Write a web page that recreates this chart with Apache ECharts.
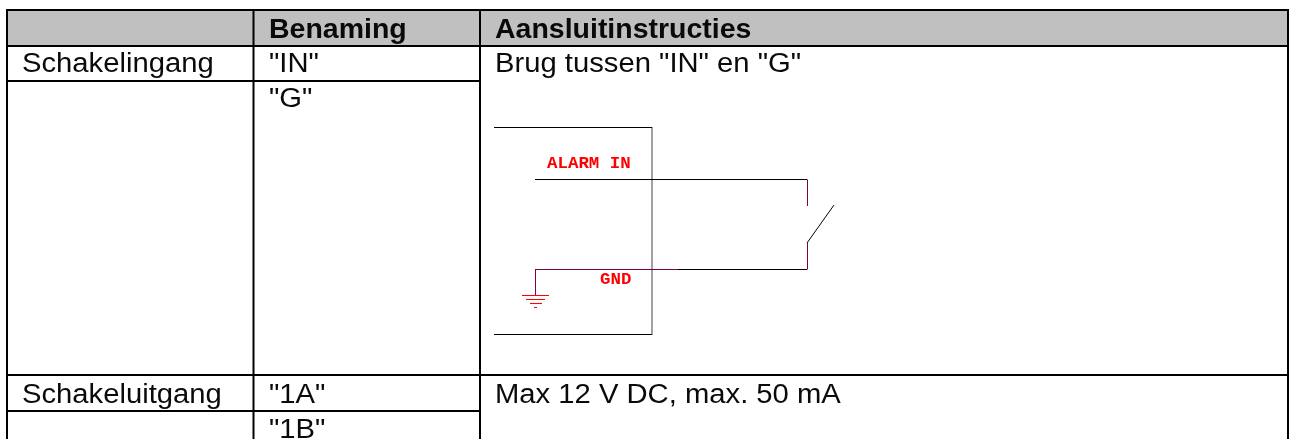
<!DOCTYPE html>
<html>
<head>
<meta charset="utf-8">
<style>
  html, body { margin: 0; padding: 0; background: #fff; }
  #chart { width: 1295px; height: 439px; }
</style>
<script src="https://cdn.jsdelivr.net/npm/echarts@6/dist/echarts.min.js"></script>
</head>
<body>
<div id="chart"></div>
<script>
// Table text
const headers = ["Benaming", "Aansluitinstructies"];
const groups = ["Schakelingang", "Schakeluitgang"];
const names = ['"IN"', '"G"', '"1A"', '"1B"'];
const instructions = ['Brug tussen "IN" en "G"', "Max 12 V DC, max. 50 mA"];
const diagramLabels = ["ALARM IN", "GND"];

// Where the table rules and wires sit, as [x1, y1, x2, y2] on the page axes
const headerBand = [[7, 10, 1288, 46]];
const tableRules = [
  [6, 10, 1289, 10], [6, 46, 1289, 46], [6, 81, 480, 81], [6, 375, 1289, 375], [6, 411, 480, 411],
  [7, 10, 7, 439], [253.5, 10, 253.5, 439], [480, 10, 480, 439], [1288, 10, 1288, 439],
];
const blackWires = [
  [494, 127.5, 652, 127.5], [494, 334.5, 652, 334.5], [535, 179.5, 807, 179.5], [678, 269.5, 807, 269.5],
  [807, 243, 834, 205],
];
const maroonWires = [
  [807.5, 179.5, 807.5, 206], [807.5, 243, 807.5, 269.5], [535, 269.5, 678, 269.5], [535.5, 269.5, 535.5, 295],
];
const boxEdge = [[652, 127, 652, 335]];
const groundBars = [
  [522, 295.5, 549, 295.5], [526, 299.5, 545, 299.5], [530, 303.5, 542, 303.5], [534, 307.5, 537, 307.5],
];

function segments(data, color, width) {
  return {
    type: "custom",
    silent: true,
    data: data,
    renderItem: (params, api) => {
      const a = api.coord([api.value(0), api.value(1)]);
      const b = api.coord([api.value(2), api.value(3)]);
      return {
        type: "line",
        shape: { x1: a[0], y1: a[1], x2: b[0], y2: b[1] },
        style: { stroke: color, lineWidth: width },
      };
    },
  };
}

// y is the top of the text box here, zrender has no alphabetic baseline option
function texts(items, font, color, stretch) {
  return {
    type: "custom",
    silent: true,
    data: items.map((t) => [t[0], t[1]]),
    renderItem: (params, api) => {
      const p = api.coord([api.value(0), api.value(1)]);
      return {
        type: "text",
        x: p[0],
        y: p[1],
        scaleX: stretch,
        style: {
          text: items[params.dataIndex][2],
          font: font,
          fill: color,
        },
      };
    },
  };
}

const body = '27px "Liberation Sans"';
const bold = 'bold 27px "Liberation Sans"';
const mono = 'bold 16px "Liberation Mono"';

const chart = echarts.init(document.getElementById("chart"));
chart.setOption({
  animation: false,
  backgroundColor: "#ffffff",
  grid: { left: 0, right: 0, top: 0, bottom: 0 },
  xAxis: { type: "value", min: 0, max: 1295, show: false },
  yAxis: { type: "value", min: 0, max: 439, inverse: true, show: false },
  series: [
    {
      type: "custom",
      silent: true,
      data: headerBand,
      renderItem: (params, api) => {
        const a = api.coord([api.value(0), api.value(1)]);
        const b = api.coord([api.value(2), api.value(3)]);
        return {
          type: "rect",
          shape: { x: a[0], y: a[1], width: b[0] - a[0], height: b[1] - a[1] },
          style: { fill: "#c0c0c0" },
        };
      },
    },
    segments(tableRules, "#000000", 2),
    segments(boxEdge, "#808080", 1.5),
    segments(blackWires, "#000000", 1),
    segments(maroonWires, "#800040", 1),
    segments(groundBars, "#ff0000", 1),
    texts(
      [
        [269, 17, headers[0]],
        [495, 17, headers[1]],
      ],
      bold, "#0a0a0a", 1.055
    ),
    texts(
      [
        [22, 51, groups[0]],
        [22, 382, groups[1]],
        [269, 51, names[0]],
        [269, 86, names[1]],
        [269, 382, names[2]],
        [269, 417, names[3]],
        [495, 51, instructions[0]],
        [495, 382, instructions[1]],
      ],
      body, "#0a0a0a", 1.082
    ),
    texts(
      [
        [547, 156, diagramLabels[0]],
        [600, 272, diagramLabels[1]],
      ],
      mono, "#ff0000", 1.09
    ),
  ],
});
</script>
</body>
</html>
